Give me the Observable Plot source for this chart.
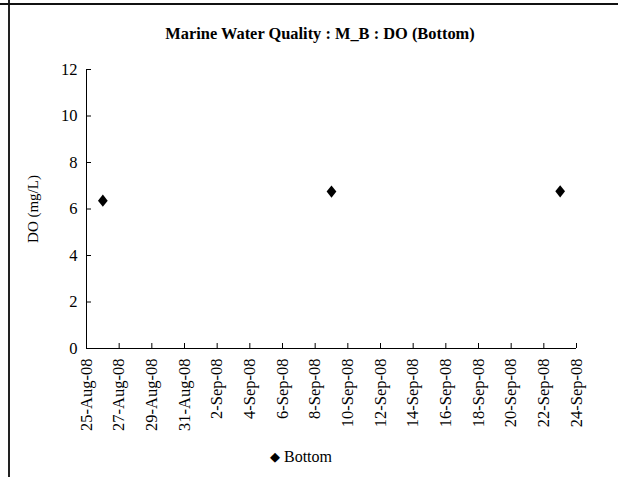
<!DOCTYPE html>
<html>
<head>
<meta charset="utf-8">
<script src="https://cdn.jsdelivr.net/npm/d3@7"></script>
<script src="https://cdn.jsdelivr.net/npm/@observablehq/plot@0.6"></script>
<style>
  html, body { margin: 0; padding: 0; background: #fff; }
  #wrap { position: relative; width: 618px; height: 477px; overflow: hidden; font-family: "Liberation Serif", "Times New Roman", serif; }
  #vline { position: absolute; left: 8px; top: 0; width: 1.5px; height: 477px; background: #222; }
  #hline { position: absolute; left: 0; top: 3px; width: 618px; height: 1.5px; background: #111; }
  #title { position: absolute; left: 11px; width: 618px; top: 24px; line-height: 20px; text-align: center; font-weight: bold; font-size: 16.4px; color: #000; }
  #legend { position: absolute; left: 270px; top: 447px; line-height: 20px; font-size: 16px; color: #000; white-space: nowrap; }
  #chart { position: absolute; left: 0; top: 0; }
</style>
</head>
<body>
<div id="wrap">
  <div id="chart"></div>
  <div id="vline"></div>
  <div id="hline"></div>
  <div id="title"></div>
  <div id="legend"></div>
</div>
<script>
const titleText = "Marine Water Quality : M_B : DO (Bottom)";
const seriesName = "Bottom";
const yLabel = "DO (mg/L)";
const sampleDates = ["2008-08-26", "2008-09-09", "2008-09-23"];
const doValues = [6.36, 6.75, 6.76];
const xDomain = ["2008-08-25", "2008-09-24"];
const xTickLabels = ["25-Aug-08","27-Aug-08","29-Aug-08","31-Aug-08","2-Sep-08","4-Sep-08","6-Sep-08","8-Sep-08","10-Sep-08","12-Sep-08","14-Sep-08","16-Sep-08","18-Sep-08","20-Sep-08","22-Sep-08","24-Sep-08"];
const yTicks = [0, 2, 4, 6, 8, 10, 12];
const yDomain = [0, 12];

const parseLabel = d3.utcParse("%-d-%b-%y");
const fmt = d3.utcFormat("%-d-%b-%y");
const xTicks = xTickLabels.map(parseLabel);
const data = sampleDates.map((d, i) => ({date: new Date(d + "T00:00:00Z"), value: doValues[i]}));

const diamond = {
  draw(ctx, size) {
    const s = Math.sqrt(size / Math.PI);
    ctx.moveTo(0, -s * 1.15);
    ctx.lineTo(s * 0.92, 0);
    ctx.lineTo(0, s * 1.15);
    ctx.lineTo(-s * 0.92, 0);
    ctx.closePath();
  }
};

const fam = "'Liberation Serif', 'Times New Roman', serif";

const chart = Plot.plot({
  width: 618,
  height: 477,
  marginLeft: 86,
  marginRight: 42,
  marginTop: 69,
  marginBottom: 129,
  style: {fontFamily: fam, fontSize: "16.5px", color: "#000", background: "transparent"},
  x: {type: "utc", domain: xDomain.map(d => new Date(d + "T00:00:00Z"))},
  y: {domain: yDomain},
  marks: [
    Plot.axisX({ticks: xTicks, tickSize: 0, tickPadding: 10, tickRotate: -90, tickFormat: fmt, label: null, fontSize: 16.5, fontFamily: fam}),
    Plot.axisX({ticks: xTicks, tickSize: -5, text: null, label: null, stroke: "#000"}),
    Plot.axisY({ticks: yTicks, tickSize: 0, tickPadding: 9, label: null, fontSize: 16.5, fontFamily: fam}),
    Plot.axisY({ticks: yTicks, tickSize: -5, text: null, label: null, stroke: "#000"}),
    Plot.ruleY([yDomain[0]], {stroke: "#000"}),
    Plot.ruleX([new Date(xDomain[0] + "T00:00:00Z")], {stroke: "#000"}),
    Plot.dot(data, {x: "date", y: "value", symbol: diamond, r: 5.3, fill: "#000", stroke: "none"}),
    Plot.text([yLabel], {frameAnchor: "left", textAnchor: "middle", dx: -53, rotate: -90, fontSize: 15, fontFamily: fam, fill: "#000"})
  ]
});
document.getElementById("chart").appendChild(chart);
document.getElementById("title").textContent = titleText;
document.getElementById("legend").innerHTML = '<span style="font-size:13px;position:relative;top:-1px">\u25C6</span> ' + seriesName;
</script>
</body>
</html>
